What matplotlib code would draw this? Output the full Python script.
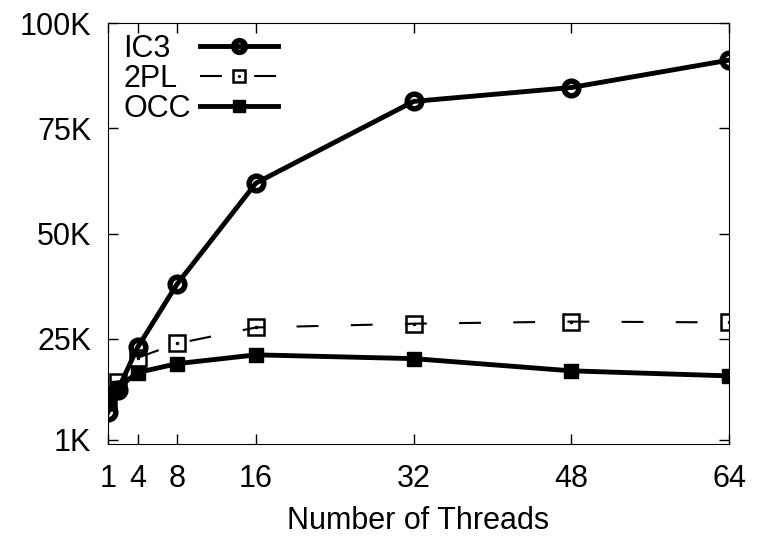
import matplotlib
matplotlib.use("Agg")
import matplotlib.pyplot as plt

# throughput vs threads
threads = [1, 2, 4, 8, 16, 32, 48, 64]
ic3 = [7600, 12900, 23000, 38000, 62000, 81400, 84700, 91200]
tpl = [10000, 14800, 20500, 23900, 27700, 28600, 29100, 28900]
occ = [10500, 13400, 17000, 19100, 21200, 20300, 17400, 16200]

x_ticks = [1, 4, 8, 16, 32, 48, 64]
y_ticks = [1000, 25000, 50000, 75000, 100000]
y_labels = ["1K", "25K", "50K", "75K", "100K"]

plt.rcParams['font.family'] = ['Liberation Sans', 'DejaVu Sans']

fig = plt.figure(figsize=(7.61, 5.37), dpi=100)
ax = fig.add_axes([0.142, 0.173, 0.816, 0.784])

l1, = ax.plot(threads, ic3, color='black', lw=3.5, marker='o', ms=10.5,
              mfc='none', mec='black', mew=4, zorder=3)
l2, = ax.plot(threads, tpl, color='black', lw=1.5, dashes=(10.5, 15.5),
              marker='s', ms=11, mfc='none', mec='black', mew=1.8, zorder=2)
d2, = ax.plot(threads, tpl, ls='none', marker='.', ms=3, color='black', zorder=2)
l3, = ax.plot(threads, occ, color='black', lw=3.5, marker='s', ms=10,
              mfc='black', mec='black', zorder=3)

ax.set_xlim(1, 64)
ax.set_ylim(0, 100000)
ax.set_xticks(x_ticks)
ax.set_yticks(y_ticks)
ax.set_yticklabels(y_labels)
ax.tick_params(direction='in', length=7, width=1, top=True, right=True,
               labelsize=22)
ax.tick_params(axis='x', pad=14)
ax.tick_params(axis='y', pad=12)
ax.set_xlabel("Number of Threads", fontsize=22, labelpad=9)

leg = ax.legend([l1, (l2, d2), l3], ["IC3", "2PL", "OCC"], loc='upper left',
                markerfirst=False, frameon=False, fontsize=22,
                handlelength=2.55, labelspacing=0.0, borderaxespad=0.3,
                handletextpad=0.3, bbox_to_anchor=(-0.01, 1.025),
                markerscale=0.8)

# gnuplot keeps the key labels left-aligned: shift the shorter ones left
fig.canvas.draw()
texts = leg.get_texts()
widths = [t.get_window_extent().width for t in texts]
for t, w in zip(texts, widths):
    t.set_position((w - max(widths), 0))

fig.savefig("out.png", dpi=100)
